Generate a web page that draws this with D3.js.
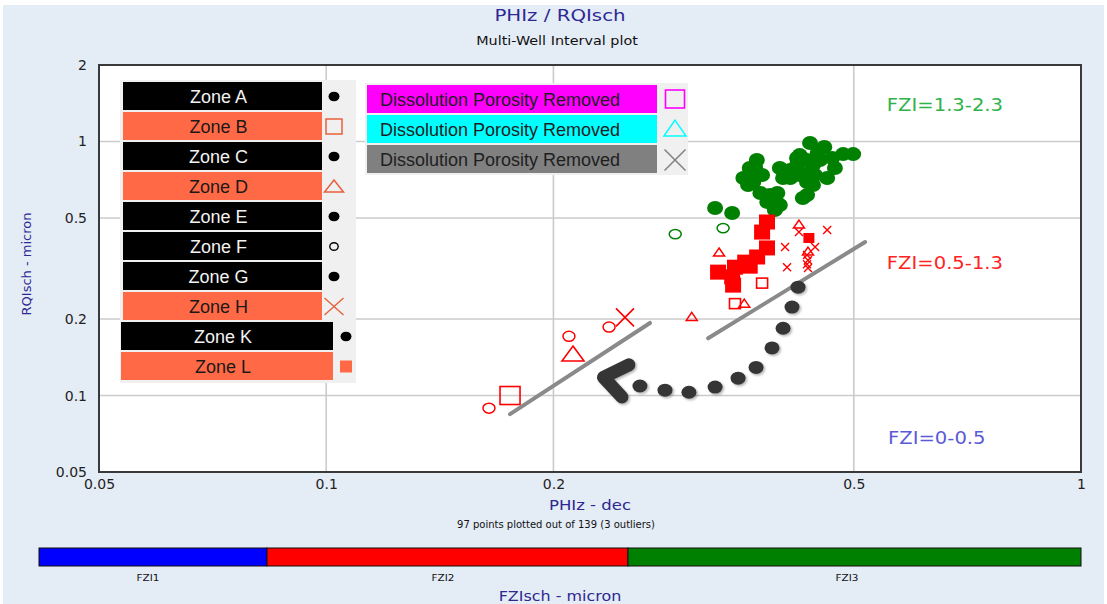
<!DOCTYPE html>
<html>
<head>
<meta charset="utf-8">
<script src="https://cdn.jsdelivr.net/npm/d3@7"></script>
<style>
  body { margin: 0; background: #ffffff; }
  svg { display: block; }
</style>
</head>
<body>
<svg id="chart" width="1107" height="604"></svg>
<script>
// ---- axis ticks ----
const phiTicks = [0.05, 0.1, 0.2, 0.5, 1];
const rqiTicks = [0.05, 0.1, 0.2, 0.5, 1, 2];
const phiGrid = [0.1, 0.2, 0.5];
const rqiGrid = [0.1, 0.2, 0.5, 1];

// ---- samples: [PHIz, RQIsch] ----
// FZI3, zones A/C/E/G/K (filled circles)
const fzi3Dots = [
  [0.4375, 0.986], [0.457, 0.951], [0.484, 0.892], [0.499, 0.892], [0.468, 0.861],
  [0.424, 0.884], [0.4335, 0.845], [0.4205, 0.808], [0.4415, 0.808], [0.444, 0.738],
  [0.472, 0.786], [0.399, 0.786], [0.403, 0.718], [0.412, 0.718], [0.4335, 0.692],
  [0.4415, 0.674], [0.4335, 0.615], [0.428, 0.599], [0.372, 0.845], [0.364, 0.786],
  [0.357, 0.718], [0.368, 0.692], [0.378, 0.738], [0.376, 0.627], [0.387, 0.615],
  [0.396, 0.627], [0.396, 0.572], [0.384, 0.578], [0.3275, 0.547], [0.345, 0.523],
  [0.4205, 0.861], [0.448, 0.90], [0.451, 0.845], [0.4375, 0.758], [0.461, 0.718],
  [0.370, 0.79], [0.399, 0.562], [0.393, 0.537], [0.4117, 0.772], [0.4244, 0.738],
  [0.3873, 0.588], [0.370, 0.758], [0.3622, 0.674]
];
// zone F (open circles)
const fzi3Rings = [[0.290, 0.432], [0.3356, 0.456]];
const fzi2Rings = [[0.1643, 0.0892], [0.2097, 0.171], [0.237, 0.186]];
// zone L (filled squares)
const fzi2Blocks = [
  [0.3837, 0.482], [0.378, 0.44], [0.3837, 0.381], [0.3723, 0.351], [0.359, 0.335],
  [0.348, 0.320], [0.3305, 0.306], [0.345, 0.293], [0.346, 0.272], [0.364, 0.323]
];
const fzi2BlocksMinor = [[0.436, 0.417]];
// zone B (open squares)
const fzi2Squares = [[0.378, 0.277], [0.348, 0.23]];
const fzi2SquaresKey = [[0.1752, 0.100]];
// zone D (open triangles)
const fzi2Triangles = [[0.3315, 0.364], [0.423, 0.469], [0.4348, 0.367], [0.358, 0.229], [0.305, 0.203]];
const fzi2TrianglesKey = [[0.2123, 0.144]];
// zone H (crosses)
const fzi2Crosses = [
  [0.423, 0.44], [0.461, 0.448], [0.4054, 0.384], [0.4443, 0.384], [0.4079, 0.320],
  [0.4335, 0.357], [0.4348, 0.341], [0.4335, 0.329], [0.4348, 0.318]
];
const fzi2CrossesKey = [[0.2488, 0.203]];

// ---- hand-drawn annotations ----
const trendLines = [
  [[0.1752, 0.0845], [0.2685, 0.193]],
  [[0.3206, 0.168], [0.5176, 0.402]]
];
const arrowDots = [
  [0.4218, 0.267], [0.4141, 0.223], [0.403, 0.184], [0.3896, 0.154], [0.3711, 0.129],
  [0.3513, 0.117], [0.3275, 0.108], [0.3024, 0.103], [0.2811, 0.105], [0.2604, 0.109]
];
const arrowHead = [[0.2518, 0.132], [0.233, 0.118], [0.2465, 0.0986]];

const fziLabels = ["FZI=1.3-2.3", "FZI=0.5-1.3", "FZI=0-0.5"];
const fziLabelAt = [[0.553, 1.392], [0.553, 0.332], [0.555, 0.068]];

const zoneNames = ["Zone A", "Zone B", "Zone C", "Zone D", "Zone E", "Zone F", "Zone G", "Zone H", "Zone K", "Zone L"];
const zoneSymbols = ["dot", "square", "dot", "triangle", "dot", "ring", "dot", "cross", "dot", "block"];
const zoneHighlight = [false, true, false, true, false, false, false, true, false, true];
const removedNames = ["Dissolution Porosity Removed", "Dissolution Porosity Removed", "Dissolution Porosity Removed"];
const removedSymbols = ["square", "triangle", "cross"];

const fziBarNames = ["FZI1", "FZI2", "FZI3"];
const fziBarEdges = [0, 0.5, 1.3, 2.3];

// ---- drawing ----
const svg = d3.select("#chart");
const W = 1107, H = 604;
const plot = { left: 99, right: 1081, top: 65, bottom: 472 };

const x = d3.scaleLog().domain([0.05, 1]).range([plot.left, plot.right]);
const y = d3.scaleLog().domain([0.05, 2]).range([plot.bottom, plot.top]);

const C = {
  panel: "#e4ecf6", ink: "#2e2893", grid: "#cbcbcb", frame: "#3a3a3a",
  green: "#008000", red: "#ff0000", dark: "#353535", trend: "#8a8a8a",
  orange: "#ff6945", orangeMark: "#e8603c"
};

function label(g, px, py, str, o) {
  const t = g.append("text")
    .attr("transform", `translate(${px},${py}) scale(${o.sx || 1},1)`)
    .attr("text-anchor", o.anchor || "middle")
    .attr("dominant-baseline", "central")
    .style("font-family", o.font || "DejaVu Sans")
    .style("font-size", o.size + "px")
    .attr("fill", o.fill || "#000")
    .text(str);
  if (o.rotate) t.attr("transform", `translate(${px},${py}) rotate(${o.rotate})`);
  return t;
}

const defs = svg.append("defs");
const sh = defs.append("filter").attr("id", "soft").attr("x", "-30%").attr("y", "-30%").attr("width", "160%").attr("height", "160%");
sh.append("feDropShadow").attr("dx", 1.5).attr("dy", 1.5).attr("stdDeviation", 1.2).attr("flood-color", "#000").attr("flood-opacity", 0.3);

svg.append("rect").attr("width", W).attr("height", H).attr("fill", "#fff");
svg.append("rect").attr("x", 3).attr("y", 5).attr("width", W - 6).attr("height", H - 5).attr("fill", C.panel);

// titles
label(svg, 560, 15, "PHIz / RQIsch", { size: 16.5, sx: 1.2, fill: C.ink });
label(svg, 557, 41, "Multi-Well Interval plot", { size: 12.3, sx: 1.17, fill: "#111" });

// plot area
svg.append("rect").attr("x", plot.left).attr("y", plot.top)
  .attr("width", plot.right - plot.left).attr("height", plot.bottom - plot.top).attr("fill", "#fff");

const grid = svg.append("g");
grid.selectAll("line.v").data(phiGrid).join("line")
  .attr("x1", d => x(d)).attr("x2", d => x(d)).attr("y1", plot.top).attr("y2", plot.bottom)
  .attr("stroke", C.grid).attr("stroke-width", 1.6);
grid.selectAll("line.h").data(rqiGrid).join("line")
  .attr("y1", d => y(d)).attr("y2", d => y(d)).attr("x1", plot.left).attr("x2", plot.right)
  .attr("stroke", C.grid).attr("stroke-width", 1.6);

svg.append("rect").attr("x", plot.left).attr("y", plot.top)
  .attr("width", plot.right - plot.left).attr("height", plot.bottom - plot.top)
  .attr("fill", "none").attr("stroke", C.frame).attr("stroke-width", 2);

// axes
const fmt = d => String(d);
const xAxis = svg.append("g").attr("transform", `translate(0,${plot.bottom})`)
  .call(d3.axisBottom(x).tickValues(phiTicks).tickFormat(fmt).tickSize(0).tickPadding(7));
const yAxis = svg.append("g").attr("transform", `translate(${plot.left},0)`)
  .call(d3.axisLeft(y).tickValues(rqiTicks).tickFormat(fmt).tickSize(0).tickPadding(12));
[xAxis, yAxis].forEach(a => {
  a.select(".domain").remove();
  a.selectAll("text").style("font-family", "DejaVu Sans").style("font-size", "14px").attr("fill", "#222");
});

label(svg, 590, 505, "PHIz - dec", { size: 14, sx: 1.18, fill: C.ink });
label(svg, 556, 524, "97 points plotted out of 139 (3 outliers)", { size: 10, sx: 1.0, fill: "#111" });
label(svg, 26, 264, "RQIsch - micron", { size: 13, rotate: -90, fill: C.ink });

// symbol helpers
function tri(w, h) { return `M0,${-h * 0.62}L${w / 2},${h * 0.38}L${-w / 2},${h * 0.38}Z`; }
function cross(s) { const a = s / 2; return `M${-a},${-a}L${a},${a}M${a},${-a}L${-a},${a}`; }

const marks = svg.append("g");
function squares(data, w, h, fill, stroke) {
  marks.append("g").selectAll("rect").data(data).join("rect")
    .attr("x", d => x(d[0]) - w / 2).attr("y", d => y(d[1]) - h / 2)
    .attr("width", w).attr("height", h)
    .attr("fill", fill).attr("stroke", stroke || "none").attr("stroke-width", 1.6);
}
function ellipses(data, rx, ry, fill, stroke) {
  marks.append("g").selectAll("ellipse").data(data).join("ellipse")
    .attr("cx", d => x(d[0])).attr("cy", d => y(d[1])).attr("rx", rx).attr("ry", ry)
    .attr("fill", fill).attr("stroke", stroke || "none").attr("stroke-width", 1.5);
}
function paths(data, dstr, fill, stroke, sw) {
  marks.append("g").selectAll("path").data(data).join("path")
    .attr("transform", d => `translate(${x(d[0])},${y(d[1])})`).attr("d", dstr)
    .attr("fill", fill).attr("stroke", stroke).attr("stroke-width", sw);
}

ellipses(fzi3Dots, 8, 7, C.green);
ellipses(fzi3Rings, 6, 4.6, "none", C.green);
squares(fzi2Blocks, 16, 15, C.red);
squares(fzi2BlocksMinor, 11, 10, C.red);
squares(fzi2Squares, 11, 10, "none", C.red);
squares(fzi2SquaresKey, 20, 18, "none", C.red);
paths(fzi2Triangles, tri(11, 8), "none", C.red, 1.5);
paths(fzi2TrianglesKey, tri(22, 15), "none", C.red, 1.6);
paths(fzi2Crosses, cross(8), "none", C.red, 1.4);
paths(fzi2CrossesKey, cross(18), "none", C.red, 1.6);
ellipses(fzi2Rings, 6, 5, "none", C.red);

// trend lines and arrow
const line = d3.line().x(d => x(d[0])).y(d => y(d[1]));
svg.append("g").selectAll("path").data(trendLines).join("path")
  .attr("d", line).attr("stroke", C.trend).attr("stroke-width", 4)
  .attr("stroke-linecap", "round").attr("fill", "none");
const arrow = svg.append("g").attr("filter", "url(#soft)");
arrow.selectAll("ellipse").data(arrowDots).join("ellipse")
  .attr("cx", d => x(d[0])).attr("cy", d => y(d[1])).attr("rx", 7.5).attr("ry", 6.5).attr("fill", C.dark);
arrow.append("path").datum(arrowHead).attr("d", line)
  .attr("stroke", C.dark).attr("stroke-width", 13).attr("stroke-linecap", "round")
  .attr("stroke-linejoin", "round").attr("fill", "none");

// FZI annotations
const fziColors = ["#2eb34a", "#ff2323", "#5a5ad8"];
fziLabels.forEach((s, i) => {
  label(svg, x(fziLabelAt[i][0]), y(fziLabelAt[i][1]), s, { size: 17.5, sx: 1.12, anchor: "start", fill: fziColors[i] });
});

// zone legend
const lg = svg.append("g");
lg.append("rect").attr("x", 120).attr("y", 80).attr("width", 236).attr("height", 303).attr("fill", "#f0f0f0");
function legendMark(g, kind, cx, cy, col) {
  if (kind === "dot") g.append("ellipse").attr("cx", cx).attr("cy", cy).attr("rx", 5.5).attr("ry", 4.8).attr("fill", "#000");
  if (kind === "ring") g.append("ellipse").attr("cx", cx).attr("cy", cy).attr("rx", 4.2).attr("ry", 3.8).attr("fill", "none").attr("stroke", "#000").attr("stroke-width", 1.4);
  if (kind === "square") g.append("rect").attr("x", cx - 8).attr("y", cy - 7.5).attr("width", 16).attr("height", 15).attr("fill", "none").attr("stroke", col).attr("stroke-width", 1.5);
  if (kind === "block") g.append("rect").attr("x", cx - 6).attr("y", cy - 6).attr("width", 12).attr("height", 12).attr("fill", col);
  if (kind === "triangle") g.append("path").attr("transform", `translate(${cx},${cy + 1})`).attr("d", tri(19, 12)).attr("fill", "none").attr("stroke", col).attr("stroke-width", 1.5);
  if (kind === "cross") g.append("path").attr("transform", `translate(${cx},${cy})`).attr("d", `M-9.5,-8.5L9.5,8.5M9.5,-8.5L-9.5,8.5`).attr("fill", "none").attr("stroke", col).attr("stroke-width", 1.4);
}
zoneNames.forEach((name, i) => {
  const lower = i >= 8;
  const bx = lower ? 121 : 123, bw = lower ? 212 : 199;
  const by = lower ? 322 + 30 * (i - 8) : 82 + 30 * i;
  const hot = zoneHighlight[i];
  lg.append("rect").attr("x", bx).attr("y", by).attr("width", bw).attr("height", 28)
    .attr("fill", hot ? C.orange : "#000");
  label(lg, bx + bw / 2 - 4, by + 14.5, name, { size: 18, font: "Liberation Sans", fill: hot ? "#1a1a1a" : "#f2f2f2" });
  const mcol = zoneSymbols[i] === "block" ? C.orange : C.orangeMark;
  legendMark(lg, zoneSymbols[i], lower ? 346 : 334, by + 14.5, mcol);
});

// removed-porosity legend
const rg = svg.append("g");
rg.append("rect").attr("x", 365).attr("y", 83).attr("width", 323).attr("height", 92).attr("fill", "#f0f0f0");
const removedFill = ["#ff00ff", "#00ffff", "#808080"];
removedNames.forEach((name, i) => {
  const by = 85 + 30 * i;
  rg.append("rect").attr("x", 367).attr("y", by).attr("width", 290).attr("height", 28).attr("fill", removedFill[i]);
  label(rg, 380, by + 14.5, name, { size: 18, font: "Liberation Sans", anchor: "start", fill: "#1e1e1e" });
  const cx = 675, cy = by + 14;
  const col = removedFill[i];
  if (removedSymbols[i] === "square") rg.append("rect").attr("x", cx - 9.5).attr("y", cy - 9).attr("width", 19).attr("height", 18).attr("fill", "none").attr("stroke", col).attr("stroke-width", 1.6);
  if (removedSymbols[i] === "triangle") rg.append("path").attr("transform", `translate(${cx},${cy + 1})`).attr("d", tri(22, 16)).attr("fill", "none").attr("stroke", col).attr("stroke-width", 1.5);
  if (removedSymbols[i] === "cross") rg.append("path").attr("transform", `translate(${cx},${cy + 1})`).attr("d", cross(21)).attr("fill", "none").attr("stroke", col).attr("stroke-width", 1.5);
});

// FZI colour bar
const bar = d3.scaleLinear().domain([0, 0.5, 1.3, 2.3]).range([39, 267, 628, 1081]);
const barColors = ["#0000ff", "#ff0000", "#008000"];
const bg = svg.append("g");
fziBarNames.forEach((n, i) => {
  const x0 = bar(fziBarEdges[i]), x1 = bar(fziBarEdges[i + 1]);
  bg.append("rect").attr("x", x0).attr("y", 548).attr("width", x1 - x0).attr("height", 18)
    .attr("fill", barColors[i]).attr("stroke", "#111").attr("stroke-width", 1);
});
const barLabelAt = [148, 443, 847];
fziBarNames.forEach((n, i) => label(bg, barLabelAt[i], 578, n, { size: 9.5, sx: 1.1, fill: "#111" }));
label(svg, 560, 596, "FZIsch - micron", { size: 14.5, sx: 1.1, fill: C.ink });
</script>
</body>
</html>
